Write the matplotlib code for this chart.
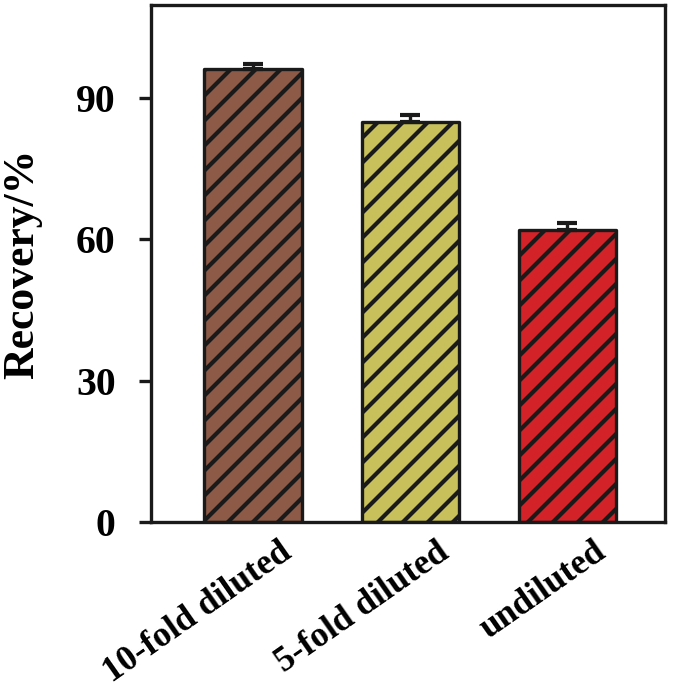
import matplotlib
matplotlib.use("Agg")
import matplotlib.pyplot as plt
import matplotlib.transforms as mtransforms

categories = ["10-fold diluted", "5-fold diluted", "undiluted"]
recovery = [96.2, 84.9, 62.0]
errors = [1.1, 1.5, 1.4]
colors = ["#8C5A47", "#C8C05A", "#D32228"]
yticks = [0, 30, 60, 90]

plt.rcParams['font.family'] = ['Liberation Serif', 'DejaVu Serif']
plt.rcParams['font.weight'] = 'bold'
plt.rcParams['hatch.linewidth'] = 2.0

fig = plt.figure(figsize=(4.5, 4.64), dpi=150)
ax = fig.add_axes([0.2237, 0.25, 0.985 - 0.2237, 0.9928 - 0.25])

x = list(range(len(categories)))
bars = ax.bar(x, recovery, width=0.62, color=colors, edgecolor="#1a1a1a",
              linewidth=1.6, hatch="//", zorder=2)
for b in bars:
    b.set_joinstyle('round')
ax.errorbar(x, recovery, yerr=[[0] * len(errors), errors], fmt='none',
            ecolor="#1a1a1a", elinewidth=1.6, capsize=5, capthick=2, zorder=3)

ax.set_xlim(-0.65, 2.62)
ax.set_ylim(0, 109.8)
ax.set_yticks(yticks)
ax.set_yticklabels([str(t) for t in yticks], fontsize=19, fontweight='bold')
ax.tick_params(axis='y', direction='out', length=6, width=1.6, pad=11, color="#1a1a1a")
ax.tick_params(axis='x', length=0, pad=4)
ax.set_xticks(x)
ax.set_xticklabels(categories, fontsize=17, fontweight='bold', rotation=35,
                   ha='right', va='top', rotation_mode='anchor')
offset = mtransforms.ScaledTranslation(26 / 150, -5 / 150, fig.dpi_scale_trans)
for lab in ax.get_xticklabels():
    lab.set_transform(lab.get_transform() + offset)

for s in ax.spines.values():
    s.set_linewidth(1.6)
    s.set_color("#1a1a1a")

ax.set_ylabel("Recovery/%", fontsize=21, fontweight='bold', labelpad=16)

fig.savefig("out.png", dpi=150)
